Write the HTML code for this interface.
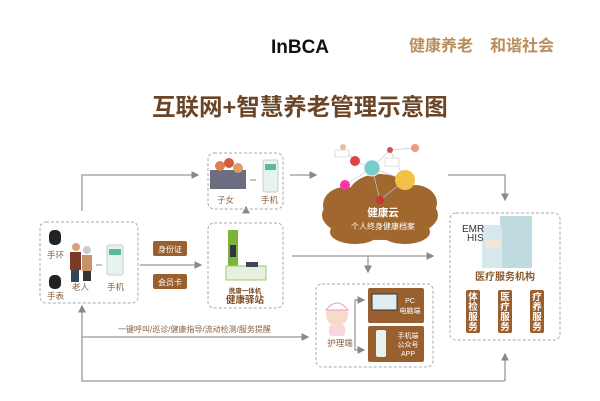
<!DOCTYPE html>
<html><head><meta charset="utf-8"><style>
body{margin:0;background:#fff}
svg{display:block;font-family:"Liberation Sans","Noto Sans CJK SC",sans-serif}
</style></head><body>
<svg width="600" height="401" viewBox="0 0 600 401">
<defs><marker id="a" markerWidth="6" markerHeight="6" refX="5" refY="3" orient="auto"><path d="M0,0 L6,3 L0,6z" fill="#888"/></marker></defs>
<rect width="600" height="401" fill="#fff"/>
<text x="300" y="53" font-size="19" font-weight="bold" text-anchor="middle" fill="#111">InBCA</text>
<text x="409" y="51" font-size="16" font-weight="bold" fill="#b98e5c">健康养老</text>
<text x="490" y="51" font-size="16" font-weight="bold" fill="#b98e5c">和谐社会</text>
<text x="152" y="115" font-size="23.5" font-weight="bold" fill="#6a4527">互联网+智慧养老管理示意图</text>

<g fill="none" stroke="#999" stroke-width="1.3">
<path d="M82,211 V175 H198" marker-end="url(#a)"/>
<path d="M140,265 H201" marker-end="url(#a)"/>
<path d="M246,213 V207" marker-end="url(#a)"/>
<path d="M290,175 H316" marker-end="url(#a)"/>
<path d="M292,256 H433" marker-end="url(#a)"/>
<path d="M368,256 V272" marker-end="url(#a)"/>
<path d="M448,175 H505 V200" marker-end="url(#a)"/>
<path d="M82,337 H308" marker-end="url(#a)"/>
<path d="M505,381 H82 V306" marker-end="url(#a)"/>
<path d="M505,381 V354" marker-end="url(#a)"/>
<path d="M362,300 H355 V350 H362"/>
<path d="M355,300 H364" marker-end="url(#a)"/>
<path d="M355,350 H364" marker-end="url(#a)"/>
</g>
<g fill="none" stroke="#aaa" stroke-dasharray="3,2">
<rect x="40" y="222" width="98" height="81" rx="6"/>
<rect x="208" y="153" width="75" height="56" rx="6"/>
<rect x="208" y="223" width="75" height="85" rx="6"/>
<rect x="450" y="213" width="110" height="127" rx="6"/>
<rect x="316" y="284" width="117" height="83" rx="6"/>
</g>
<!-- left box -->
<rect x="49" y="230" width="12" height="15" rx="5" fill="#222"/>
<rect x="49" y="275" width="12" height="14" rx="5" fill="#222"/>
<text x="47" y="258" font-size="8.5" fill="#8a6040">手环</text>
<text x="47" y="299" font-size="8.5" fill="#8a6040">手表</text>
<circle cx="76" cy="247" r="4" fill="#d9a07a"/><rect x="70" y="252" width="11" height="18" fill="#7a3b22"/><rect x="71" y="270" width="8" height="12" fill="#345"/>
<circle cx="87" cy="250" r="4" fill="#ccc"/><rect x="82" y="255" width="10" height="16" fill="#c8936a"/><rect x="83" y="271" width="8" height="10" fill="#333"/>
<text x="72" y="290" font-size="8.5" fill="#8a6040">老人</text>
<path d="M96,265 H102" stroke="#888"/>
<rect x="107" y="245" width="16" height="30" rx="2" fill="#e7f3ef" stroke="#ccc"/><rect x="109" y="249" width="12" height="6" fill="#5cb8a0"/>
<text x="107" y="290" font-size="8.5" fill="#8a6040">手机</text>
<rect x="153" y="241" width="34" height="15" rx="2" fill="#9a5f2e"/><text x="170" y="252" font-size="8" fill="#fff" text-anchor="middle">身份证</text>
<rect x="153" y="274" width="34" height="15" rx="2" fill="#9a5f2e"/><text x="170" y="285" font-size="8" fill="#fff" text-anchor="middle">会员卡</text>
<!-- family -->
<rect x="210" y="170" width="36" height="19" fill="#6b6e80"/>
<circle cx="220" cy="166" r="5" fill="#e08050"/><circle cx="229" cy="163" r="5" fill="#d45a3a"/><circle cx="238" cy="168" r="5" fill="#e29c6a"/>
<path d="M250,180 H256" stroke="#888"/>
<rect x="263" y="160" width="15" height="32" rx="2" fill="#e7f3ef" stroke="#ccc"/><rect x="265" y="164" width="11" height="6" fill="#5cb8a0"/>
<text x="217" y="203" font-size="8.5" fill="#8a6040">子女</text>
<text x="261" y="203" font-size="8.5" fill="#8a6040">手机</text>
<!-- station -->
<rect x="228" y="230" width="10" height="40" fill="#7ab43c"/><rect x="230" y="245" width="6" height="12" fill="#334"/>
<rect x="226" y="266" width="40" height="14" fill="#e6efe0" stroke="#9c6"/><rect x="246" y="262" width="12" height="5" fill="#445"/>
<text x="245" y="293" font-size="6.5" font-weight="bold" fill="#7a4a22" text-anchor="middle">携康一体机</text>
<text x="245" y="303" font-size="9.5" font-weight="bold" fill="#7a4a22" text-anchor="middle">健康驿站</text>
<!-- cloud -->
<g fill="#a0682f">
<ellipse cx="380" cy="215" rx="58" ry="25"/><ellipse cx="345" cy="205" rx="22" ry="18"/><ellipse cx="415" cy="203" rx="22" ry="18"/>
<ellipse cx="380" cy="196" rx="32" ry="22"/><ellipse cx="355" cy="232" rx="25" ry="12"/><ellipse cx="405" cy="232" rx="25" ry="12"/>
</g>
<g fill="none" stroke="#bcd" stroke-width=".7"><path d="M372,168 L355,161 L343,147 M372,168 L390,150 L415,148 M372,168 L405,180 L390,150 M372,168 L345,185 M405,180 L380,200 M372,168 L380,200"/></g>
<rect x="385" y="158" width="14" height="8" fill="#fff" stroke="#ddd"/><rect x="335" y="150" width="14" height="7" fill="#fff" stroke="#ddd"/>
<circle cx="372" cy="168" r="8" fill="#7cc" stroke="#eee"/><circle cx="405" cy="180" r="10" fill="#f2c246"/><circle cx="355" cy="161" r="5" fill="#d44"/>
<circle cx="343" cy="147" r="3" fill="#eb9"/><circle cx="415" cy="148" r="4" fill="#e97"/><circle cx="390" cy="150" r="3" fill="#c55"/><circle cx="345" cy="185" r="5" fill="#f3a"/><circle cx="380" cy="200" r="4" fill="#c33"/>
<text x="383" y="216" font-size="10.5" font-weight="bold" fill="#fff" text-anchor="middle">健康云</text>
<text x="383" y="229" font-size="8" fill="#fff" text-anchor="middle">个人终身健康档案</text>
<!-- hospital -->
<rect x="500" y="216" width="32" height="52" fill="#bfdbe0"/><rect x="482" y="225" width="20" height="43" fill="#d7e8ec"/>
<rect x="485" y="240" width="16" height="8" fill="#f1e7d6"/>
<text x="462" y="232" font-size="10" fill="#333">EMR</text><text x="467" y="241" font-size="10" fill="#333">HIS</text>
<text x="505" y="280" font-size="10" font-weight="bold" fill="#8a5a2e" text-anchor="middle">医疗服务机构</text>
<g fill="#9a5f2e"><rect x="466" y="290" width="14" height="43" rx="2"/><rect x="498" y="290" width="14" height="43" rx="2"/><rect x="530" y="290" width="14" height="43" rx="2"/></g>
<g font-size="9.5" font-weight="bold" fill="#fff" text-anchor="middle">
<text x="473" y="300">体</text><text x="473" y="310">检</text><text x="473" y="320">服</text><text x="473" y="330">务</text>
<text x="505" y="300">医</text><text x="505" y="310">疗</text><text x="505" y="320">服</text><text x="505" y="330">务</text>
<text x="537" y="300">疗</text><text x="537" y="310">养</text><text x="537" y="320">服</text><text x="537" y="330">务</text>
</g>
<!-- nurse -->
<circle cx="337" cy="315" r="11" fill="#f6dcc8"/><path d="M326,310 Q337,296 348,310z" fill="#fff" stroke="#e9b"/><rect x="329" y="325" width="16" height="11" rx="3" fill="#f8d8d8"/>
<text x="340" y="346" font-size="8.5" fill="#8a6040" text-anchor="middle">护理端</text>
<rect x="368" y="288" width="56" height="35" rx="2" fill="#9a5f2e"/><rect x="372" y="294" width="25" height="16" fill="#dfeef5" stroke="#333"/>
<text x="410" y="303" font-size="7" fill="#fff" text-anchor="middle">PC</text><text x="410" y="313" font-size="7" fill="#fff" text-anchor="middle">电脑端</text>
<rect x="368" y="326" width="56" height="36" rx="2" fill="#9a5f2e"/><rect x="376" y="330" width="10" height="27" rx="2" fill="#e7f3ef"/>
<text x="408" y="338" font-size="7" fill="#fff" text-anchor="middle">手机端</text><text x="408" y="347" font-size="7" fill="#fff" text-anchor="middle">公众号</text><text x="408" y="356" font-size="7" fill="#fff" text-anchor="middle">APP</text>
<text x="118" y="332" font-size="8" fill="#8a6040">一键呼叫/巡诊/健康指导/流动检测/服务提醒</text>
</svg>
</body></html>
